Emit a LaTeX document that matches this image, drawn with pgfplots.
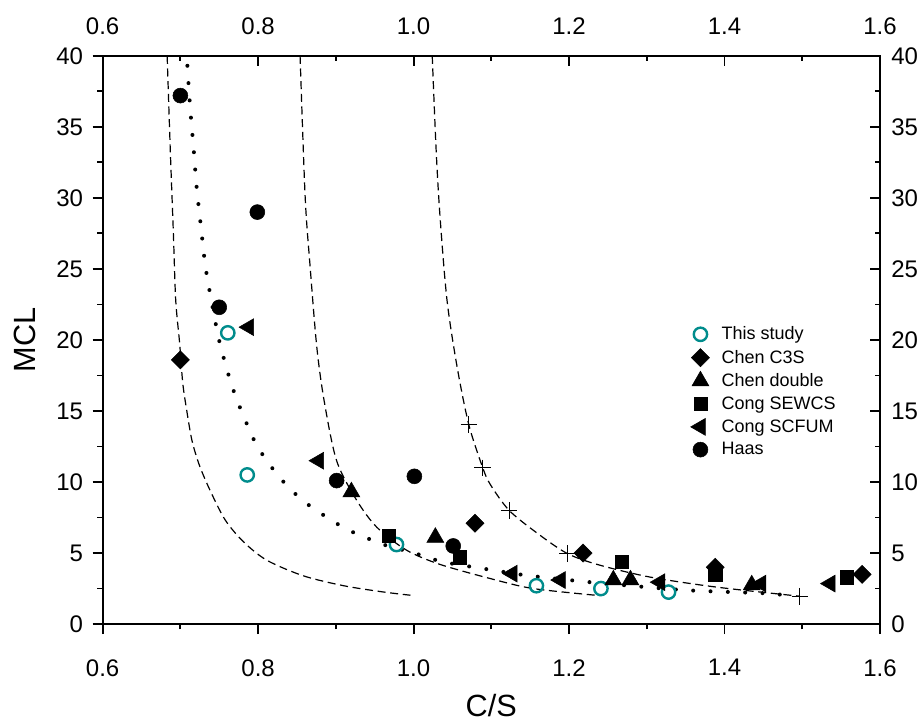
\documentclass[border=0pt]{standalone}
\usepackage{fontspec}
\setmainfont{Liberation Sans}
\usepackage{pgfplots}
\pgfplotsset{compat=1.18}
\definecolor{studyteal}{RGB}{0,140,140}

\pgfplotsset{
  base/.style={
    scale only axis, width=582.75pt, height=426pt,
    xmin=0.6, xmax=1.6, ymin=0, ymax=40,
    xtick={0.6,0.8,1.0,1.2,1.4,1.6}, ytick={0,5,10,15,20,25,30,35,40},
    minor x tick num=1, minor y tick num=1,
    /pgf/number format/assume math mode=true,
    xticklabel={\pgfmathprintnumber[fixed,fixed zerofill,precision=1]{\tick}},
    tick label style={font=\fontsize{18}{20}\selectfont},
    major tick length=7.5pt, minor tick length=4pt,
    every tick/.style={black, line width=1.4pt},
    axis line style={line width=1.4pt},
  },
  dashcurve/.style={black, line width=0.9pt, dash pattern=on 6pt off 3.5pt, smooth, tension=0.5, forget plot},
}

\begin{document}
\begin{tikzpicture}
% frame with top and right labels, ticks pointing in
\begin{axis}[base, xtick pos=right, ytick pos=right,
  xticklabel pos=right, yticklabel pos=right, tick align=inside,
  xticklabel style={yshift=12.5pt}, yticklabel style={xshift=5pt}]
\end{axis}

\begin{axis}[base, xtick pos=left, ytick pos=left, tick align=outside,
  xticklabel style={yshift=-15.5pt}, yticklabel style={xshift=-3.7pt},
  xlabel={C/S}, ylabel={MCL},
  every axis x label/.style={at={(axis description cs:0.5,-0.143)}, anchor=center,
    font=\fontsize{23}{26}\selectfont},
  every axis y label/.style={at={(axis description cs:-0.0999,0.5)}, anchor=center, rotate=90,
    font=\fontsize{23}{26}\selectfont},
  legend style={draw=none, fill=none, at={(axis description cs:0.751,0.533)}, anchor=north west,
    font=\fontsize{13.5}{16}\selectfont, row sep=2.2pt, column sep=7pt},
  legend cell align=left,
]
% fitted curves
\addplot[dashcurve] coordinates {(0.683,40) (0.687,33.4) (0.691,27.5) (0.694,22.8) (0.699,19.8)
  (0.703,17.0) (0.708,15.1) (0.715,12.9) (0.725,11.1) (0.740,9.2) (0.758,7.3) (0.781,5.8)
  (0.811,4.5) (0.858,3.4) (0.91,2.7) (0.961,2.26) (0.996,2.03)};
\addplot[dashcurve] coordinates {(0.854,40) (0.8605,30.1) (0.867,25.1) (0.8755,19.5) (0.885,15.7)
  (0.901,11.5) (0.927,8.7) (0.953,6.8) (0.991,5.2) (1.034,4.2) (1.099,3.2) (1.154,2.5) (1.24,2.0)};
\addplot[dashcurve] coordinates {(1.024,40) (1.029,33.4) (1.034,28.7) (1.043,22.8) (1.056,18.1)
  (1.071,14.05) (1.089,11.0) (1.099,9.8) (1.123,8.0) (1.159,6.4) (1.198,4.96) (1.24,4.14)
  (1.305,3.3) (1.39,2.6) (1.497,1.96)};
\addplot[black, line width=3pt, dash pattern=on 0pt off 13pt, line cap=round, smooth, tension=0.5, forget plot]
  coordinates {(0.709,39.3) (0.7125,36.4) (0.717,33.5) (0.721,30.7) (0.727,27.7) (0.733,24.9)
  (0.747,20.7) (0.753,19.3) (0.760,17.9) (0.768,16.5) (0.777,15.2) (0.787,13.9) (0.798,12.6)
  (0.8125,11.4) (0.828,10.3) (0.846,9.26) (0.867,8.3) (0.889,7.5) (0.913,6.7) (0.938,6.1)
  (0.961,5.6) (0.987,5.2) (1.013,4.8) (1.038,4.37) (1.09,3.9) (1.144,3.44) (1.223,2.97)
  (1.30,2.6) (1.352,2.38) (1.405,2.26) (1.459,2.15) (1.485,1.96)};
\addplot[only marks, mark=+, mark size=6.2pt, black, line width=0.8pt, forget plot]
  coordinates {(1.071,14.05) (1.089,11.0) (1.123,8.0) (1.198,4.96) (1.497,1.96)};

% data
\addplot[only marks, mark=o, mark size=5pt, studyteal, line width=1.8pt]
  coordinates {(0.761,20.5) (0.786,10.5) (0.978,5.6) (1.158,2.7) (1.241,2.5) (1.328,2.25)};
\addplot[only marks, mark=square*, mark size=4.8pt, mark options={rotate=45}, black]
  coordinates {(0.70,18.6) (1.079,7.1) (1.218,5.0) (1.388,4.0) (1.577,3.5)};
\addplot[only marks, mark=triangle*, mark size=7.3pt, black]
  coordinates {(0.92,9.3) (1.028,6.1) (1.257,3.1) (1.279,3.1) (1.435,2.75)};
\addplot[only marks, mark=square*, mark size=5pt, black]
  coordinates {(0.968,6.2) (1.059,4.7) (1.268,4.4) (1.388,3.45) (1.557,3.3)};
\addplot[only marks, mark=triangle*, mark size=7.3pt, mark options={rotate=90}, black]
  coordinates {(0.788,20.9) (0.878,11.5) (1.127,3.55) (1.189,3.1) (1.317,2.95) (1.447,2.85) (1.536,2.85)};
\addplot[only marks, mark=*, mark size=5.6pt, black]
  coordinates {(0.70,37.2) (0.799,29.0) (0.75,22.3) (0.901,10.1) (1.001,10.4) (1.051,5.5)};
\legend{This study, Chen C3S, Chen double, Cong SEWCS, Cong SCFUM, Haas}
\end{axis}
\pgfresetboundingbox
\useasboundingbox (-76.95pt,-73.5pt) rectangle (615.75pt,467.85pt);
\end{tikzpicture}
\end{document}
